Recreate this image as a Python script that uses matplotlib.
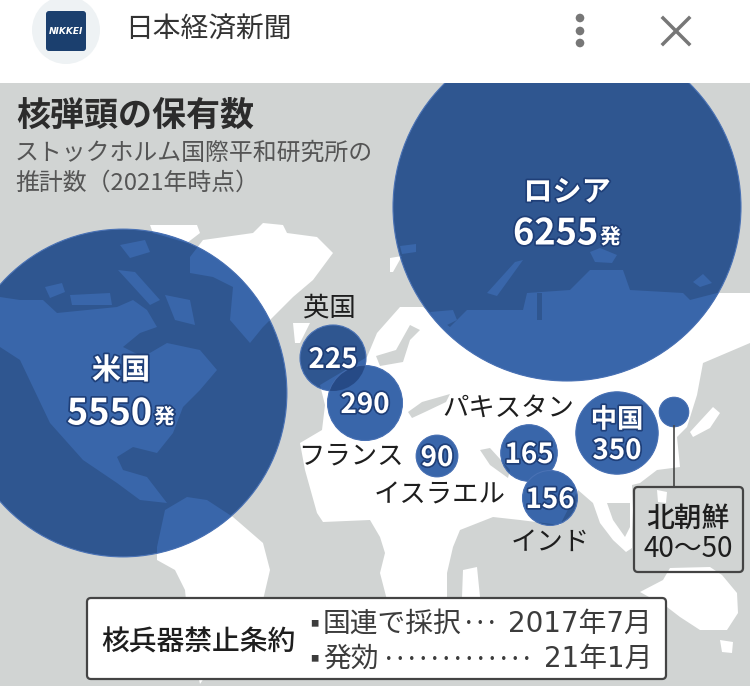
import matplotlib
matplotlib.use('Agg')
import matplotlib.pyplot as plt
import matplotlib.patheffects as pe
import numpy as np
from matplotlib.patches import Circle, FancyBboxPatch, Polygon, Rectangle

plt.rcParams['font.family'] = ['Noto Sans CJK JP', 'DejaVu Sans']

# warheads per country (2021), bubble centres in picture pixels
countries = ['ロシア', '米国', '英国', 'フランス', 'イスラエル', 'パキスタン', 'インド', '中国', '北朝鮮']
warheads = [6255, 5550, 225, 290, 90, 165, 156, 350, 45]
bubble_x = [567, 123, 333, 365, 437, 529, 550, 617, 674]
bubble_y = [207, 393, 358, 403, 456, 453, 498, 433, 412]
area_scale = 2.2  # radius in pixels per sqrt(warhead)

# rough land outlines in the same pixel space
land_white = [
    # Eurasia + north/central Africa
    [(390, 307), (423, 307), (450, 327), (467, 310), (523, 310), (527, 293), (570, 290), (590, 270),
     (623, 270), (630, 290), (683, 293), (690, 300), (717, 293), (750, 293), (750, 343), (703, 363),
     (697, 395), (687, 427), (677, 437), (680, 467), (657, 470), (640, 483), (632, 485), (633, 510),
     (632, 530), (632, 548), (626, 552), (613, 540), (600, 523), (593, 503), (578, 490), (560, 525),
     (520, 520), (493, 517), (460, 530), (453, 547), (447, 573), (447, 600), (387, 600), (380, 573),
     (385, 553), (380, 537), (370, 520), (323, 522), (317, 513), (305, 470), (300, 443), (322, 430),
     (325, 405), (320, 385), (367, 357), (377, 333), (400, 307)],
    # Greenland
    [(190, 257), (203, 240), (253, 233), (263, 223), (283, 225), (287, 233), (317, 237), (333, 253),
     (313, 280), (293, 297), (277, 313), (263, 327), (250, 343), (230, 320), (233, 287), (213, 277),
     (190, 273)],
    [(150, 225), (197, 225), (200, 233), (187, 243), (153, 233)],
    # north and central America
    [(0, 297), (20, 300), (43, 300), (57, 313), (117, 307), (133, 300), (147, 310), (157, 327),
     (140, 333), (123, 347), (143, 357), (167, 343), (200, 350), (217, 370), (200, 390), (183, 407),
     (173, 433), (157, 453), (133, 447), (117, 457), (123, 470), (147, 477), (167, 503), (140, 500),
     (117, 483), (83, 460), (50, 423), (20, 360), (0, 347)],
    # arctic islands
    [(45, 287), (62, 283), (65, 292), (50, 298)],
    [(70, 295), (110, 293), (112, 305), (72, 305)],
    [(120, 245), (145, 240), (150, 252), (130, 258)],
    [(118, 270), (135, 272), (160, 300), (150, 305)],
    [(165, 295), (190, 300), (195, 325), (175, 320)],
    # south America
    [(157, 547), (165, 510), (187, 497), (207, 500), (233, 517), (263, 543), (270, 570), (263, 600),
     (230, 640), (200, 684), (190, 640), (185, 590), (175, 570), (157, 560)],
    # UK, Japan, Madagascar, Australia, Tasmania
    [(293, 323), (310, 323), (300, 343), (295, 343)],
    [(713, 407), (720, 413), (710, 428), (693, 437), (690, 432)],
    [(463, 570), (477, 567), (480, 597), (462, 597)],
    [(640, 592), (663, 580), (670, 568), (710, 567), (722, 575), (737, 593), (738, 613), (727, 630),
     (700, 630), (680, 617), (667, 607)],
    [(720, 640), (733, 642), (732, 653), (722, 652)],
    # islands under the Russia bubble
    [(487, 293), (515, 262), (523, 260), (497, 296)],
    [(430, 312), (453, 310), (457, 320), (445, 326)],
    [(590, 252), (600, 248), (617, 255), (612, 263), (595, 262)],
    [(693, 282), (703, 274), (712, 283), (700, 287)],
    [(390, 258), (402, 256), (393, 272), (390, 272)],
    [(400, 246), (416, 244), (416, 252), (402, 254)],
    # islands near the callout box
    [(657, 490), (667, 492), (666, 503), (658, 502)],
]
land_grey = [
    [(410, 325), (420, 330), (410, 340), (403, 362), (380, 366), (376, 356), (396, 350)],  # baltic
    [(422, 402), (450, 394), (446, 402), (425, 412), (412, 418), (408, 412)],  # mediterranean
    [(480, 450), (490, 448), (510, 470), (508, 478), (490, 465)],  # red sea
    [(607, 503), (630, 503), (630, 527), (625, 537), (613, 520)],  # gulf of thailand
    [(537, 293), (542, 293), (542, 320), (537, 320)],  # ural strip
]

fig = plt.figure(figsize=(7.5, 6.86), dpi=100)
ax = fig.add_axes([0, 0, 1, 1])
ax.set_xlim(0, 750)
ax.set_ylim(686, 0)
ax.axis('off')

grey = '#d1d4d3'
ink = '#1e1e1e'
sea_blue = '#2f5690'
land_blue = '#3966aa'
map_clip = Rectangle((0, 83), 750, 603, transform=ax.transData)

ax.add_patch(Rectangle((0, 83), 750, 603, fc=grey, ec='none', zorder=0))
for pts in land_white:
    ax.add_patch(Polygon(pts, closed=True, fc='white', ec='none', zorder=1))
for pts in land_grey:
    ax.add_patch(Polygon(pts, closed=True, fc=grey, ec='none', zorder=1))

bubble_r = area_scale * np.sqrt(warheads)

# each bubble: dark base, land redrawn lighter and clipped to the circle
z = 2.0
for x, y, r in zip(bubble_x, bubble_y, bubble_r):
    base = Circle((x, y), r, fc=sea_blue, ec='none', zorder=z)
    ax.add_patch(base)
    base.set_clip_path(map_clip)
    for pts, col in [(p, land_blue) for p in land_white] + [(p, sea_blue) for p in land_grey]:
        patch = Polygon(pts, closed=True, fc=col, ec='none', zorder=z + 0.01)
        ax.add_patch(patch)
        patch.set_clip_path(base)
    ring = Circle((x, y), r, fc='none', ec='#4a72b5', lw=0.8, zorder=z + 0.02)
    ax.add_patch(ring)
    ring.set_clip_path(map_clip)
    z += 0.1

# darker lens where the UK and France bubbles overlap
france = Circle((bubble_x[3], bubble_y[3]), bubble_r[3], fc='none', ec='none', zorder=z)
ax.add_patch(france)
lens = Circle((bubble_x[2], bubble_y[2]), bubble_r[2], fc='#1f3f78', ec='none', alpha=0.7, zorder=z + 0.01)
ax.add_patch(lens)
lens.set_clip_path(france)

halo = [pe.withStroke(linewidth=2.5, foreground='#1f3f78')]
y_nudge = 2  # Noto CJK sits a little high when centred


def white_text(x, y, s, size, ha='center'):
    ax.text(x, y + y_nudge, s, color='white', fontsize=size, fontweight='bold', ha=ha, va='center',
            path_effects=halo, zorder=5)


def black_text(x, y, s, size, ha='center', weight='normal', color=ink, family=None):
    ax.text(x, y + y_nudge, s, color=color, fontsize=size, fontweight=weight, ha=ha, va='center',
            zorder=5, family=family)


# big bubbles carry name + count + 発
white_text(567, 190, countries[0], 21)
white_text(598, 232, str(warheads[0]), 26, ha='right')
white_text(600, 235, '発', 15, ha='left')
white_text(121, 368, countries[1], 21)
white_text(152, 412, str(warheads[1]), 26, ha='right')
white_text(154, 415, '発', 15, ha='left')

white_text(333, 358, str(warheads[2]), 20)
white_text(365, 403, str(warheads[3]), 20)
white_text(437, 456, str(warheads[4]), 20)
white_text(529, 453, str(warheads[5]), 20)
white_text(550, 498, str(warheads[6]), 20)
white_text(617, 418, countries[7], 19)
white_text(617, 449, str(warheads[7]), 20)

black_text(329, 306, countries[2], 19)
black_text(351, 454, countries[3], 19)
black_text(440, 493, countries[4], 19)
black_text(508, 406, countries[5], 19)
black_text(550, 540, countries[6], 19)

# north korea callout, the map shows through the box
ax.plot([674, 674], [426, 487], color='#444444', lw=1.2, zorder=4)
ax.add_patch(FancyBboxPatch((634, 487), 109, 85, boxstyle='round,pad=0,rounding_size=4',
                            fc='none', ec='#444444', lw=1.6, zorder=4))
black_text(688, 516, countries[8], 20, weight='medium')
black_text(688, 547, '40～50', 20)

# title
black_text(16, 113, '核弾頭の保有数', 24.5, ha='left', weight='bold', color='#2c2c2c')
black_text(15, 151, 'ストックホルム国際平和研究所の', 17.2, ha='left', color='#555555')
black_text(15, 181, '推計数（2021年時点）', 17.2, ha='left', color='#555555')

# treaty panel
ax.add_patch(FancyBboxPatch((87, 598), 579, 81, boxstyle='round,pad=0,rounding_size=4',
                            fc='white', ec='#444444', lw=1.6, zorder=4))
black_text(101, 640, '核兵器禁止条約', 20, ha='left', weight='medium')
panel_grey = '#3c3c3c'
wide_digits = ['DejaVu Sans', 'Noto Sans CJK JP']
black_text(310, 622, '■', 6, ha='left', color=panel_grey)
black_text(323, 622, '国連で採択', 20, ha='left', color=panel_grey)
black_text(463, 622, '···', 14, ha='left', weight='bold', color=panel_grey)
black_text(652, 622, '2017年7月', 20, ha='right', color=panel_grey, family=wide_digits)
black_text(310, 657, '■', 6, ha='left', color=panel_grey)
black_text(323, 657, '発効', 20, ha='left', color=panel_grey)
black_text(383, 657, '·············', 14, ha='left', weight='bold', color=panel_grey)
black_text(652, 657, '21年1月', 20, ha='right', color=panel_grey, family=wide_digits)

# app header strip
ax.add_patch(Circle((66, 30), 34, fc='#eef2f4', ec='none', zorder=1))
ax.add_patch(FancyBboxPatch((46, 11), 40, 40, boxstyle='round,pad=0,rounding_size=3',
                            fc='#1b3f6e', ec='none', zorder=2))
ax.text(66, 31, 'NIKKEI', color='white', fontsize=6.5, fontweight='bold', style='italic',
        ha='center', va='center', family='DejaVu Sans', zorder=3)
black_text(125, 28, '日本経済新聞', 20, ha='left', color='#333333')
for y in [18, 31, 43]:
    ax.add_patch(Circle((580, y), 4.3, fc='#777777', ec='none', zorder=2))
ax.plot([663, 689], [18, 44], color='#777777', lw=2.5, zorder=2)
ax.plot([663, 689], [44, 18], color='#777777', lw=2.5, zorder=2)

fig.savefig('out.png', dpi=100)
